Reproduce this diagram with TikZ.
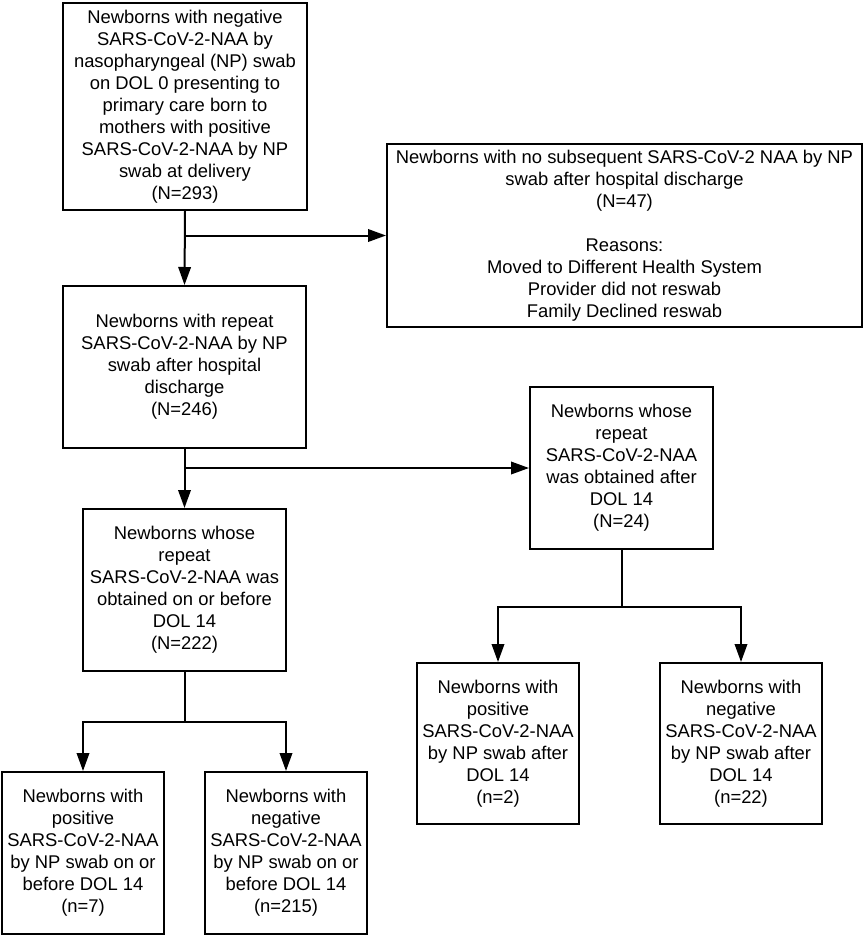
\documentclass[tikz,border=0pt]{standalone}
\usepackage{fontspec}
\setmainfont{Liberation Sans}
\usetikzlibrary{arrows.meta,positioning,calc}

\tikzset{
  flowbox/.style={draw=black,line width=2pt,align=center,inner sep=0pt,
                  font=\fontsize{18.4}{22}\selectfont},
  flowarr/.style={line width=2pt,-{Triangle[length=18pt,width=12.5pt]}}
}

\begin{document}
\begin{tikzpicture}[x=1pt,y=1pt]
  \useasboundingbox (0,0) rectangle (867,-940);

  % main column
  \node[flowbox,minimum width=244pt,minimum height=207pt] (start) at (185,-106.5) {%
    Newborns with negative\\ SARS-CoV-2-NAA by\\ nasopharyngeal (NP) swab\\
    on DOL 0 presenting to\\ primary care born to\\ mothers with positive\\
    SARS-CoV-2-NAA by NP\\ swab at delivery\\ (N=293)};
  \node[flowbox,minimum width=475pt,minimum height=183pt] (noswab) at (624.5,-235.5) {%
    Newborns with no subsequent SARS-CoV-2 NAA by NP\\ swab after hospital discharge\\
    (N=47)\\[22pt] Reasons:\\ Moved to Different Health System\\
    Provider did not reswab\\ Family Declined reswab};
  \node[flowbox,minimum width=243pt,minimum height=162pt] (repeat) at (184.5,-367) {%
    Newborns with repeat\\ SARS-CoV-2-NAA by NP\\ swab after hospital\\ discharge\\ (N=246)};
  \node[flowbox,minimum width=183pt,minimum height=162pt] (late) at (621.5,-468) {%
    Newborns whose\\ repeat\\ SARS-CoV-2-NAA\\ was obtained after\\ DOL 14\\ (N=24)};
  \node[flowbox,minimum width=203pt,minimum height=162pt] (early) at (184.5,-590) {%
    Newborns whose\\ repeat\\ SARS-CoV-2-NAA was\\ obtained on or before\\ DOL 14\\ (N=222)};

  % outcomes
  \node[flowbox,minimum width=162pt,minimum height=161pt] (latepos) at (498,-743.5) {%
    Newborns with\\ positive\\ SARS-CoV-2-NAA\\ by NP swab after\\ DOL 14\\ (n=2)};
  \node[flowbox,minimum width=162pt,minimum height=161pt] (lateneg) at (741,-743.5) {%
    Newborns with\\ negative\\ SARS-CoV-2-NAA\\ by NP swab after\\ DOL 14\\ (n=22)};
  \node[flowbox,minimum width=162pt,minimum height=162pt] (earlypos) at (83,-853) {%
    Newborns with\\ positive\\ SARS-CoV-2-NAA\\ by NP swab on or\\ before DOL 14\\ (n=7)};
  \node[flowbox,minimum width=162pt,minimum height=162pt] (earlyneg) at (286,-853) {%
    Newborns with\\ negative\\ SARS-CoV-2-NAA\\ by NP swab on or\\ before DOL 14\\ (n=215)};

  % connectors
  \draw[flowarr] (start.south) -- (repeat.north);
  \draw[flowarr] (start.south |- noswab.west) -- (noswab.west);
  \draw[flowarr] (repeat.south) -- (early.north);
  \draw[flowarr] (repeat.south |- late.west) -- (late.west);

  \coordinate (latesplit) at ($(late.south)+(0,-57)$);
  \draw[line width=2pt] (late.south) -- (latesplit);
  \draw[flowarr] (latesplit) -| (latepos.north);
  \draw[flowarr] (latesplit) -| (lateneg.north);

  \coordinate (earlysplit) at ($(early.south)+(0,-50)$);
  \draw[line width=2pt] (early.south) -- (earlysplit);
  \draw[flowarr] (earlysplit) -| (earlypos.north);
  \draw[flowarr] (earlysplit) -| (earlyneg.north);
\end{tikzpicture}
\end{document}
